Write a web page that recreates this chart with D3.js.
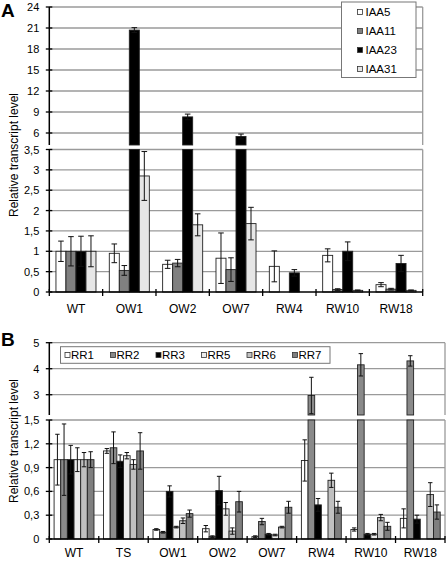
<!DOCTYPE html>
<html><head><meta charset="utf-8">
<script src="https://cdn.jsdelivr.net/npm/d3@7"></script>
<style>body{margin:0;background:#fff}svg{display:block;font-family:"Liberation Sans",Arial,sans-serif}</style>
</head><body><svg id="c" width="448" height="561"></svg>
<script>
// ---------- Panel A data ----------
const catsA = ["WT","OW1","OW2","OW7","RW4","RW10","RW18"];
const seriesA = ["IAA5","IAA11","IAA23","IAA31"];
const colorsA = ["#ffffff","#808080","#000000","#e6e6e6"];
const IAA5 = [1, 0.95, 0.68, 0.83, 0.63, 0.9, 0.18];
const IAA5err = [0.25, 0.23, 0.1, 0.62, 0.38, 0.16, 0.05];
const IAA11 = [1, 0.53, 0.71, 0.55, 0, 0.06, 0.07];
const IAA11err = [0.36, 0.12, 0.09, 0.29, 0, 0.02, 0.02];
const IAA23 = [1, 20.7, 8.3, 5.5, 0.47, 1.0, 0.7];
const IAA23err = [0.37, 0.35, 0.4, 0.35, 0.08, 0.23, 0.2];
const IAA31 = [1, 2.85, 1.65, 1.68, 0, 0.04, 0.04];
const IAA31err = [0.38, 0.6, 0.27, 0.4, 0, 0.01, 0.01];
const ticksAupper = [6, 9, 12, 15, 18, 21, 24];
const ticksAlower = [0, 0.5, 1, 1.5, 2, 2.5, 3, 3.5];

// ---------- Panel B data ----------
const catsB = ["WT","TS","OW1","OW2","OW7","RW4","RW10","RW18"];
const seriesB = ["RR1","RR2","RR3","RR5","RR6","RR7"];
const colorsB = ["#ffffff","#8a8a8a","#000000","#ececec","#c0c0c0","#7f7f7f"];
const RR1 = [1, 1.11, 0.12, 0.13, 0.03, 0.99, 0.12, 0.26];
const RR1err = [0.32, 0.03, 0.01, 0.04, 0.01, 0.26, 0.02, 0.12];
const RR2 = [1, 1.15, 0.085, 0.03, 0.22, 2.97, 4.15, 4.3];
const RR2err = [0.45, 0.2, 0.01, 0.01, 0.04, 0.7, 0.43, 0.2];
const RR3 = [1, 0.98, 0.6, 0.61, 0.06, 0.43, 0.06, 0.25];
const RR3err = [0.18, 0.08, 0.07, 0.18, 0.01, 0.08, 0.01, 0.05];
const RR5 = [1, 1.05, 0.15, 0.38, 0.05, 0, 0.06, 0];
const RR5err = [0.15, 0.04, 0.01, 0.08, 0.01, 0, 0.01, 0];
const RR6 = [1, 0.94, 0.23, 0.1, 0.15, 0.74, 0.27, 0.56];
const RR6err = [0.09, 0.06, 0.035, 0.04, 0.01, 0.09, 0.04, 0.15];
const RR7 = [1, 1.11, 0.32, 0.47, 0.4, 0.4, 0.16, 0.34];
const RR7err = [0.1, 0.23, 0.045, 0.13, 0.075, 0.075, 0.05, 0.09];
const ticksBupper = [3, 4, 5];
const ticksBlower = [0, 0.3, 0.6, 0.9, 1.2, 1.5];

const fmt = v => String(v).replace(".", ",");
const svg = d3.select("#c");

function panel(cfg) {
  const g = svg.append("g");
  const x = d3.scaleBand().domain(cfg.cats).range(cfg.xr).paddingInner(0).paddingOuter(0);
  const xs = d3.scaleBand().domain(cfg.series).range([0, x.bandwidth()]).paddingInner(0).paddingOuter(cfg.pad);
  const data = [];
  cfg.series.forEach((s, si) => cfg.vals[si].forEach((v, ci) => data.push({s, si, c: cfg.cats[ci], v, e: cfg.errs[si][ci]})));
  const segs = [cfg.upper, cfg.lower];
  segs.forEach(seg => {
    const y = d3.scaleLinear().domain(seg.domain).range(seg.range);
    const [y0, y1] = seg.range; // bottom, top
    // grid
    g.append("g").selectAll("line").data(seg.ticks.filter(t => t > 0)).join("line")
      .attr("x1", cfg.xr[0]).attr("x2", cfg.xr[1]).attr("y1", d => y(d)).attr("y2", d => y(d))
      .attr("stroke", "#9a9a9a").attr("stroke-width", 1.3);
    g.append("line").attr("x1", cfg.xr[1]).attr("x2", cfg.xr[1]).attr("y1", y1).attr("y2", y0)
      .attr("stroke", "#9a9a9a").attr("stroke-width", 1.3);
    // bars
    const lo = seg.domain[0], hi = seg.domain[1];
    const vis = data.filter(d => d.v > lo);
    g.append("g").selectAll("rect").data(vis).join("rect")
      .attr("x", d => x(d.c) + xs(d.s)).attr("width", xs.bandwidth())
      .attr("y", d => y(Math.min(d.v, hi))).attr("height", d => y(lo) - y(Math.min(d.v, hi)))
      .attr("fill", d => cfg.colors[d.si]).attr("stroke", "#222").attr("stroke-width", 0.9);
    // error bars
    const ev = data.filter(d => d.v > lo && d.v <= hi && d.e > 0);
    const eg = g.append("g").attr("stroke", "#111").attr("stroke-width", 1);
    const cx = d => x(d.c) + xs(d.s) + xs.bandwidth() / 2;
    eg.selectAll(".v").data(ev).join("line").attr("class", "v")
      .attr("x1", cx).attr("x2", cx)
      .attr("y1", d => y(Math.max(lo, d.v - d.e))).attr("y2", d => y(d.v + d.e));
    eg.selectAll(".t").data(ev).join("line").attr("class", "t")
      .attr("x1", d => cx(d) - cfg.cap).attr("x2", d => cx(d) + cfg.cap)
      .attr("y1", d => y(d.v + d.e)).attr("y2", d => y(d.v + d.e));
    eg.selectAll(".b").data(ev.filter(d => d.v - d.e > lo)).join("line").attr("class", "b")
      .attr("x1", d => cx(d) - cfg.cap).attr("x2", d => cx(d) + cfg.cap)
      .attr("y1", d => y(d.v - d.e)).attr("y2", d => y(d.v - d.e));
    // y axis
    const ax = g.append("g").attr("transform", `translate(${cfg.xr[0]},0)`)
      .call(d3.axisLeft(y).tickValues(seg.ticks).tickSize(0).tickPadding(10).tickFormat(fmt));
    ax.select(".domain").remove();
    ax.selectAll("text").attr("font-size", 11).attr("fill", "#000").attr("font-family", "Liberation Sans, Arial, sans-serif");
    g.append("line").attr("x1", cfg.xr[0]).attr("x2", cfg.xr[0]).attr("y1", y1).attr("y2", y0)
      .attr("stroke", "#000").attr("stroke-width", 1.5);
    g.append("g").selectAll("line").data(seg.ticks).join("line")
      .attr("x1", cfg.xr[0] - 3.5).attr("x2", cfg.xr[0] + 3).attr("y1", d => y(d)).attr("y2", d => y(d))
      .attr("stroke", "#000").attr("stroke-width", 1.3);
  });
  // x axis
  const yb = cfg.lower.range[0];
  g.append("line").attr("x1", cfg.xr[0]).attr("x2", cfg.xr[1]).attr("y1", yb).attr("y2", yb)
    .attr("stroke", "#000").attr("stroke-width", 1.5);
  const bounds = cfg.cats.map(c => x(c)).concat([cfg.xr[1]]);
  g.append("g").selectAll("line").data(bounds).join("line")
    .attr("x1", d => d).attr("x2", d => d).attr("y1", yb - 3).attr("y2", yb + 4)
    .attr("stroke", "#000").attr("stroke-width", 1.3);
  g.append("g").selectAll("text").data(cfg.cats).join("text")
    .attr("x", d => x(d) + x.bandwidth() / 2).attr("y", yb + cfg.labDy)
    .attr("text-anchor", "middle").attr("font-size", 12).text(d => d);
  // y title
  g.append("text").attr("transform", `translate(${cfg.titleX},${cfg.titleY}) rotate(-90)`)
    .attr("text-anchor", "middle").attr("font-size", 12).text("Relative transcript level");
  // panel letter
  g.append("text").attr("x", cfg.letterX).attr("y", cfg.letterY).attr("font-size", 19)
    .attr("font-weight", "bold").text(cfg.letter);
  return g;
}

panel({
  cats: catsA, series: seriesA, colors: colorsA,
  vals: [IAA5, IAA11, IAA23, IAA31], errs: [IAA5err, IAA11err, IAA23err, IAA31err],
  xr: [49.3, 422.7], pad: 0.665, cap: 2.8,
  upper: {domain: [4.286, 24], range: [145, 7], ticks: ticksAupper},
  lower: {domain: [0, 3.5], range: [292, 149.5], ticks: ticksAlower},
  labDy: 21, titleX: 18, titleY: 155, letter: "A", letterX: 1, letterY: 17
});

panel({
  cats: catsB, series: seriesB, colors: colorsB,
  vals: [RR1, RR2, RR3, RR5, RR6, RR7], errs: [RR1err, RR2err, RR3err, RR5err, RR6err, RR7err],
  xr: [49.3, 445], pad: 0.72, cap: 2.2,
  upper: {domain: [2.22, 5], range: [415, 342.7], ticks: ticksBupper},
  lower: {domain: [0, 1.5], range: [539, 420], ticks: ticksBlower},
  labDy: 18, titleX: 18, titleY: 441, letter: "B", letterX: 1, letterY: 346
});

// Legend A
const lgA = svg.append("g");
lgA.append("rect").attr("x", 341.5).attr("y", 2).attr("width", 74.5).attr("height", 75.5)
  .attr("fill", "#fff").attr("stroke", "#777").attr("stroke-width", 1);
const lyA = d3.scalePoint().domain(seriesA).range([12, 69]);
seriesA.forEach((s, i) => {
  lgA.append("rect").attr("x", 357.5).attr("y", lyA(s) - 2.5).attr("width", 5).attr("height", 5)
    .attr("fill", colorsA[i]).attr("stroke", "#333").attr("stroke-width", 0.8);
  lgA.append("text").attr("x", 365.5).attr("y", lyA(s) + 4.2).attr("font-size", 11.5).text(s);
});

// Legend B
const lgB = svg.append("g");
lgB.append("rect").attr("x", 60.5).attr("y", 346.7).attr("width", 269.5).attr("height", 16.6)
  .attr("fill", "#fff").attr("stroke", "#777").attr("stroke-width", 1);
const lxB = d3.scalePoint().domain(seriesB).range([65, 292.5]);
seriesB.forEach((s, i) => {
  lgB.append("rect").attr("x", lxB(s)).attr("y", 352.5).attr("width", 5).attr("height", 5)
    .attr("fill", colorsB[i]).attr("stroke", "#333").attr("stroke-width", 0.8);
  lgB.append("text").attr("x", lxB(s) + 6).attr("y", 359.2).attr("font-size", 11.5).text(s);
});
</script></body></html>
